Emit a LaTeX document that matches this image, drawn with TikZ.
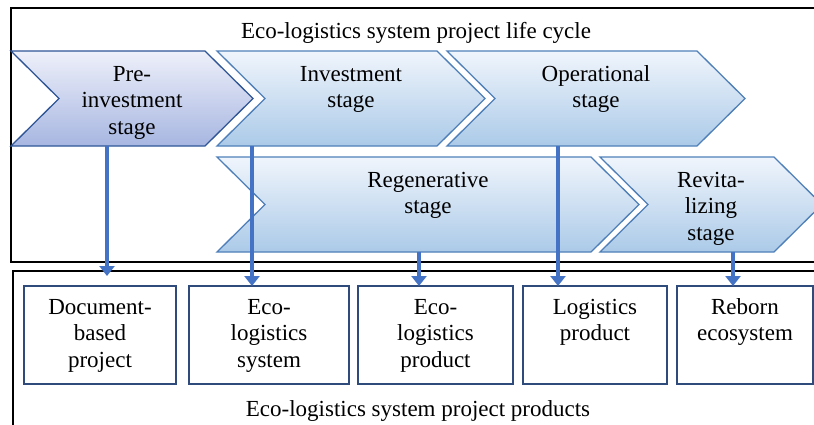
\documentclass[tikz,border=0pt]{standalone}
\usepackage{fontspec}
\setmainfont{Liberation Serif}
\usetikzlibrary{arrows.meta, positioning}
\definecolor{flowblue}{HTML}{4472C4}
\definecolor{boxedge}{HTML}{2F4B7C}
\definecolor{stageedge}{HTML}{4F7FB8}
\definecolor{firstedge}{HTML}{2F5597}
\definecolor{stagetop}{HTML}{F0F5FC}
\definecolor{stagebot}{HTML}{ABCAE8}
\definecolor{firsttop}{HTML}{EEF0FA}
\definecolor{firstbot}{HTML}{A7B6E1}
\newcommand{\stage}[6]{  % #1 = left x, #2 = top y, #3 = tip x, #4 = name, #5 = style, #6 = text
	\draw[#5] (#1,#2) -- ({#3-48},#2) -- (#3,{#2+47.5}) -- ({#3-48},{#2+95}) -- (#1,{#2+95}) -- ({#1+48},{#2+47.5}) -- cycle;
	\coordinate (#4-b) at ({(#1+#3)/2},{#2+95});
	\node[stagelabel] (#4) at ({(#1+#3)/2},#2) {#6};
}
\tikzset{frame/.style = {draw=black, line width=1.8pt},
	chevron/.style = {draw=stageedge, line width=1.3pt, top color=stagetop, bottom color=stagebot},
	firstchevron/.style = {draw=firstedge, line width=1.3pt, top color=firsttop, bottom color=firstbot}
}

\begin{document}
\begin{tikzpicture}[x=1pt, y=-1pt,
	stagelabel/.style={anchor=north, inner sep=0pt, text width=220pt, align=center, text height=30pt},
	product/.style={draw=boxedge, line width=2pt, outer sep=0pt, minimum height=98pt, inner xsep=4pt, inner ysep=11pt,
		text width=120pt, align=center, text height=17pt, text depth=59pt},
	flow/.style={draw=flowblue, line width=4.5pt, -{Triangle[width=15pt, length=10pt]}},
	font=\fontsize{23}{26.5}\selectfont
	]
	\path[use as bounding box, clip] (0,0) rectangle (814,424);
	
	% frames
	\draw[frame] (11,8) rectangle (840,262);
	\draw[frame] (13,271) rectangle (840,440);
	\node (lifecycle) at (416,33) {Eco-logistics system project life cycle};
	\node (products) at (418,411) {Eco-logistics system project products};
	
	% stages
	\stage{11}{51}{253}{pre}{firstchevron}{Pre-\\investment\\stage}
	\stage{217}{51}{485}{inv}{chevron}{Investment\\stage}
	\stage{447}{51}{745}{oper}{chevron}{Operational\\stage}
	\stage{217}{157}{639}{regen}{chevron}{Regenerative\\stage}
	\stage{600}{157}{822}{revit}{chevron}{Revita-\\lizing\\stage}
	
	% products
	\node[product, minimum width=152pt, anchor=north west] (doc) at (24,286) {Document-\\based\\project};
	\node[product, minimum width=160pt, right=13pt of doc] (sys) {Eco-\\logistics\\system};
	\node[product, minimum width=155pt, right=9pt of sys] (prod) {Eco-\\logistics\\product};
	\node[product, minimum width=144pt, right=10pt of prod] (log) {Logistics\\product};
	\node[product, minimum width=136pt, right=10pt of log] (reborn) {Reborn\\ecosystem};
	
	% Connections
	\draw[flow, shorten >=10pt] ([xshift=-25pt]pre-b) -- ([xshift=-25pt]pre-b |- doc.north);
	\draw[flow] ([xshift=-99pt]inv-b) -- ([xshift=-99pt]inv-b |- sys.north);
	\draw[flow] ([xshift=-9pt]regen-b) -- ([xshift=-9pt]regen-b |- prod.north);
	\draw[flow] ([xshift=-38pt]oper-b) -- ([xshift=-38pt]oper-b |- log.north);
	\draw[flow] ([xshift=22pt]revit-b) -- ([xshift=22pt]revit-b |- reborn.north);
\end{tikzpicture}
\end{document}
